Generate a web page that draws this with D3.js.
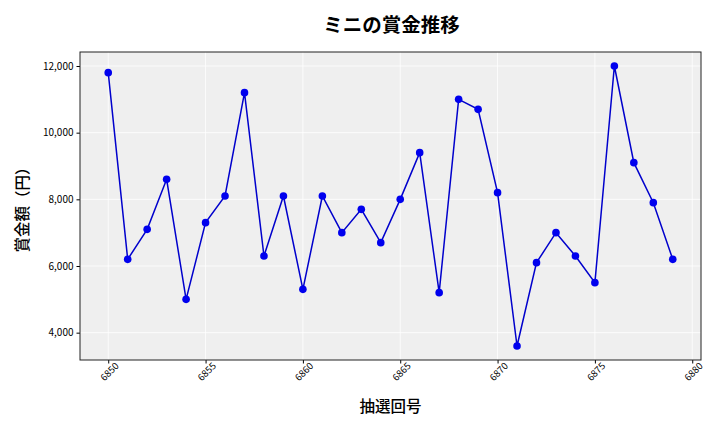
<!DOCTYPE html>
<html><head><meta charset="utf-8">
<script src="https://cdn.jsdelivr.net/npm/d3@7"></script>
<style>
body{margin:0;background:#fff;}
text{font-family:"Noto Sans CJK JP","Noto Sans",sans-serif;}
</style></head>
<body><svg id="c" width="720" height="432"></svg>
<script>
const draws = [6850,6851,6852,6853,6854,6855,6856,6857,6858,6859,6860,6861,6862,6863,6864,6865,6866,6867,6868,6869,6870,6871,6872,6873,6874,6875,6876,6877,6878,6879];
const prizes = [11800,6200,7100,8600,5000,7300,8100,11200,6300,8100,5300,8100,7000,7700,6700,8000,9400,5200,11000,10700,8200,3600,6100,7000,6300,5500,12000,9100,7900,6200];
const xTicks = [6850,6855,6860,6865,6870,6875,6880];
const yTicks = [4000,6000,8000,10000,12000];
const title = "ミニの賞金推移";
const xLabel = "抽選回号";
const yLabel = "賞金額（円）";

const L=80,R=701,T=52,B=360;
const svg=d3.select("#c");
const xmin=d3.min(draws),xmax=d3.max(draws),xm=(xmax-xmin)*0.05;
const ymin=d3.min(prizes),ymax=d3.max(prizes),ym=(ymax-ymin)*0.05;
const x=d3.scaleLinear().domain([xmin-xm,xmax+xm]).range([L,R]);
const y=d3.scaleLinear().domain([ymin-ym,ymax+ym]).range([B,T]);

svg.append("rect").attr("x",L).attr("y",T).attr("width",R-L).attr("height",B-T).attr("fill","#efefef");
const g=svg.append("g");
g.selectAll(".vg").data(xTicks).join("line").attr("x1",d=>x(d)).attr("x2",d=>x(d)).attr("y1",T).attr("y2",B).attr("stroke","#fff").attr("stroke-width",0.8);
g.selectAll(".hg").data(yTicks).join("line").attr("y1",d=>y(d)).attr("y2",d=>y(d)).attr("x1",L).attr("x2",R).attr("stroke","#fff").attr("stroke-width",0.8);

const line=d3.line().x((d,i)=>x(draws[i])).y(d=>y(d));
svg.append("path").datum(prizes).attr("d",line).attr("fill","none").attr("stroke","#0000cc").attr("stroke-width",1.5);
svg.selectAll(".pt").data(prizes).join("circle").attr("cx",(d,i)=>x(draws[i])).attr("cy",d=>y(d)).attr("r",3.8).attr("fill","#0000ee");

const xa=svg.append("g").attr("transform",`translate(0,${B})`).call(d3.axisBottom(x).tickValues(xTicks).tickFormat(d3.format("d")).tickSize(3.5).tickSizeOuter(0));
xa.select(".domain").remove();
xa.selectAll("text").attr("font-size",9.5).attr("fill","#000").attr("text-anchor","end").attr("dx","0.3em").attr("dy","0.6em").attr("transform","rotate(-45)").style("font-family","'Noto Sans CJK JP',sans-serif");
const ya=svg.append("g").attr("transform",`translate(${L},0)`).call(d3.axisLeft(y).tickValues(yTicks).tickFormat(d3.format(",")).tickSize(3.5).tickSizeOuter(0));
ya.select(".domain").remove();
ya.selectAll("text").attr("font-size",10).attr("fill","#000").style("font-family","'Noto Sans CJK JP',sans-serif");

svg.append("rect").attr("x",L).attr("y",T).attr("width",R-L).attr("height",B-T).attr("fill","none").attr("stroke","#222").attr("stroke-width",1);

svg.append("text").attr("x",(L+R)/2+1).attr("y",32).attr("text-anchor","middle").attr("font-size",19.5).attr("font-weight","bold").text(title);
svg.append("text").attr("x",(L+R)/2).attr("y",412).attr("text-anchor","middle").attr("font-size",15.5).attr("font-weight",500).text(xLabel);
svg.append("text").attr("transform",`translate(28,${(T+B)/2}) rotate(-90)`).attr("text-anchor","middle").attr("font-size",15.5).attr("font-weight",500).text(yLabel);
</script></body></html>
